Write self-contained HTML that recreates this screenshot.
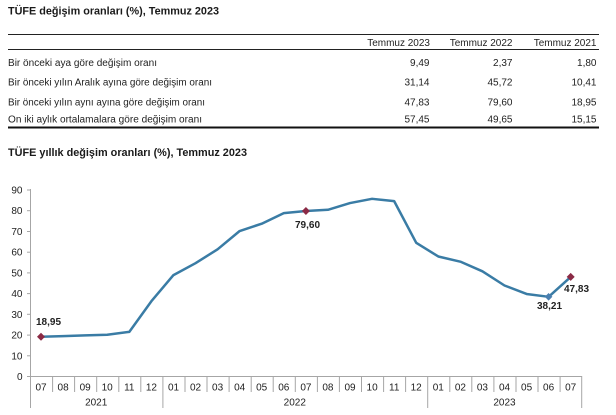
<!DOCTYPE html>
<html>
<head>
<meta charset="utf-8">
<style>
html,body{margin:0;padding:0;background:#fff;}
svg{display:block;font-family:"Liberation Sans",Arial,sans-serif;}
</style>
</head>
<body>
<svg width="616" height="415" viewBox="0 0 616 415" xmlns="http://www.w3.org/2000/svg">
<!-- Table -->
<text x="8" y="14.5" font-size="11" font-weight="bold" fill="#1a1a1a" textLength="211" lengthAdjust="spacingAndGlyphs">TÜFE değişim oranları (%), Temmuz 2023</text>
<line x1="8" y1="34.5" x2="599" y2="34.5" stroke="#222" stroke-width="1"/>
<line x1="8" y1="49.5" x2="599" y2="49.5" stroke="#222" stroke-width="1"/>
<g font-size="10" fill="#222" text-anchor="end">
<text x="430" y="46">Temmuz 2023</text>
<text x="512.5" y="46">Temmuz 2022</text>
<text x="596.5" y="46">Temmuz 2021</text>
</g>
<g font-size="10" fill="#222">
<text x="8" y="66" textLength="149" lengthAdjust="spacingAndGlyphs">Bir önceki aya göre değişim oranı</text>
<text x="8" y="85.5" textLength="204" lengthAdjust="spacingAndGlyphs">Bir önceki yılın Aralık ayına göre değişim oranı</text>
<text x="8" y="105.5" textLength="197" lengthAdjust="spacingAndGlyphs">Bir önceki yılın aynı ayına göre değişim oranı</text>
<text x="8" y="122.5" textLength="194" lengthAdjust="spacingAndGlyphs">On iki aylık ortalamalara göre değişim oranı</text>
</g>
<g font-size="10" fill="#222" text-anchor="end">
<text x="429.5" y="66">9,49</text><text x="512.5" y="66">2,37</text><text x="596.5" y="66">1,80</text>
<text x="429.5" y="85.5">31,14</text><text x="512.5" y="85.5">45,72</text><text x="596.5" y="85.5">10,41</text>
<text x="429.5" y="105.5">47,83</text><text x="512.5" y="105.5">79,60</text><text x="596.5" y="105.5">18,95</text>
<text x="429.5" y="122.5">57,45</text><text x="512.5" y="122.5">49,65</text><text x="596.5" y="122.5">15,15</text>
</g>
<line x1="8" y1="127.5" x2="599" y2="127.5" stroke="#111" stroke-width="2"/>

<!-- Chart title -->
<text x="8" y="156" font-size="11" font-weight="bold" fill="#1a1a1a" textLength="239" lengthAdjust="spacingAndGlyphs">TÜFE yıllık değişim oranları (%), Temmuz 2023</text>

<!-- Y axis -->
<g stroke="#a6a6a6" stroke-width="1">
<line x1="30.5" y1="189" x2="30.5" y2="408"/>
<line x1="27" y1="376.5" x2="30.5" y2="376.5"/>
<line x1="27" y1="355.8" x2="30.5" y2="355.8"/>
<line x1="27" y1="335.1" x2="30.5" y2="335.1"/>
<line x1="27" y1="314.3" x2="30.5" y2="314.3"/>
<line x1="27" y1="293.6" x2="30.5" y2="293.6"/>
<line x1="27" y1="272.9" x2="30.5" y2="272.9"/>
<line x1="27" y1="252.2" x2="30.5" y2="252.2"/>
<line x1="27" y1="231.5" x2="30.5" y2="231.5"/>
<line x1="27" y1="210.7" x2="30.5" y2="210.7"/>
<line x1="27" y1="190" x2="30.5" y2="190"/>
</g>
<g font-size="10" fill="#222" text-anchor="end">
<text x="22.5" y="380">0</text>
<text x="22.5" y="359.3">10</text>
<text x="22.5" y="338.6">20</text>
<text x="22.5" y="317.8">30</text>
<text x="22.5" y="297.1">40</text>
<text x="22.5" y="276.4">50</text>
<text x="22.5" y="255.7">60</text>
<text x="22.5" y="235">70</text>
<text x="22.5" y="214.2">80</text>
<text x="22.5" y="193.5">90</text>
</g>

<!-- X axis -->
<g stroke="#a6a6a6" stroke-width="1">
<line x1="30" y1="376.5" x2="582" y2="376.5"/>
<line x1="52.6" y1="376" x2="52.6" y2="392"/>
<line x1="74.6" y1="376" x2="74.6" y2="392"/>
<line x1="96.7" y1="376" x2="96.7" y2="392"/>
<line x1="118.8" y1="376" x2="118.8" y2="392"/>
<line x1="140.8" y1="376" x2="140.8" y2="392"/>
<line x1="162.9" y1="376" x2="162.9" y2="408"/>
<line x1="185" y1="376" x2="185" y2="392"/>
<line x1="207" y1="376" x2="207" y2="392"/>
<line x1="229.1" y1="376" x2="229.1" y2="392"/>
<line x1="251.2" y1="376" x2="251.2" y2="392"/>
<line x1="273.2" y1="376" x2="273.2" y2="392"/>
<line x1="295.3" y1="376" x2="295.3" y2="392"/>
<line x1="317.4" y1="376" x2="317.4" y2="392"/>
<line x1="339.4" y1="376" x2="339.4" y2="392"/>
<line x1="361.5" y1="376" x2="361.5" y2="392"/>
<line x1="383.6" y1="376" x2="383.6" y2="392"/>
<line x1="405.6" y1="376" x2="405.6" y2="392"/>
<line x1="427.7" y1="376" x2="427.7" y2="408"/>
<line x1="449.8" y1="376" x2="449.8" y2="392"/>
<line x1="471.8" y1="376" x2="471.8" y2="392"/>
<line x1="493.9" y1="376" x2="493.9" y2="392"/>
<line x1="516" y1="376" x2="516" y2="392"/>
<line x1="538" y1="376" x2="538" y2="392"/>
<line x1="560.1" y1="376" x2="560.1" y2="392"/>
<line x1="581.7" y1="376" x2="581.7" y2="408"/>
</g>
<g font-size="10" fill="#222" text-anchor="middle">
<text x="41" y="390.5">07</text>
<text x="63.1" y="390.5">08</text>
<text x="85.2" y="390.5">09</text>
<text x="107.2" y="390.5">10</text>
<text x="129.3" y="390.5">11</text>
<text x="151.4" y="390.5">12</text>
<text x="173.5" y="390.5">01</text>
<text x="195.5" y="390.5">02</text>
<text x="217.6" y="390.5">03</text>
<text x="239.7" y="390.5">04</text>
<text x="261.7" y="390.5">05</text>
<text x="283.8" y="390.5">06</text>
<text x="305.9" y="390.5">07</text>
<text x="327.9" y="390.5">08</text>
<text x="350" y="390.5">09</text>
<text x="372.1" y="390.5">10</text>
<text x="394.2" y="390.5">11</text>
<text x="416.2" y="390.5">12</text>
<text x="438.3" y="390.5">01</text>
<text x="460.4" y="390.5">02</text>
<text x="482.4" y="390.5">03</text>
<text x="504.5" y="390.5">04</text>
<text x="526.6" y="390.5">05</text>
<text x="548.6" y="390.5">06</text>
<text x="570.7" y="390.5">07</text>
<text x="96.2" y="405.5">2021</text>
<text x="294.8" y="405.5">2022</text>
<text x="504.5" y="405.5">2023</text>
</g>

<!-- Series -->
<polyline fill="none" stroke="#3a7ca5" stroke-width="2.5" stroke-linejoin="round" stroke-linecap="round"
points="41.03,336.73 63.10,336.11 85.17,335.43 107.24,334.78 129.31,331.84 151.38,301.24 173.45,275.10 195.52,263.19 217.59,249.30 239.66,231.01 261.73,223.69 283.80,213.08 305.87,211.05 327.94,209.79 350.01,203.07 372.08,198.81 394.15,201.13 416.22,242.82 438.29,256.48 460.36,261.66 482.43,271.33 504.50,285.49 526.57,293.96 548.64,296.82 570.71,276.89"/>

<!-- Markers -->
<polygon points="41,332.7 45,336.7 41,340.7 37,336.7" fill="#8b2a45"/>
<polygon points="305.9,207 309.9,211 305.9,215 301.9,211" fill="#8b2a45"/>
<polygon points="570.7,272.9 574.7,276.9 570.7,280.9 566.7,276.9" fill="#8b2a45"/>
<polygon points="548.6,293 552.4,296.8 548.6,300.6 544.8,296.8" fill="#4a7fb0"/>

<!-- Data labels -->
<g font-size="10" font-weight="bold" fill="#222">
<text x="36" y="325">18,95</text>
<text x="295" y="228">79,60</text>
<text x="537" y="309">38,21</text>
<text x="564" y="292">47,83</text>
</g>
</svg>
</body>
</html>
